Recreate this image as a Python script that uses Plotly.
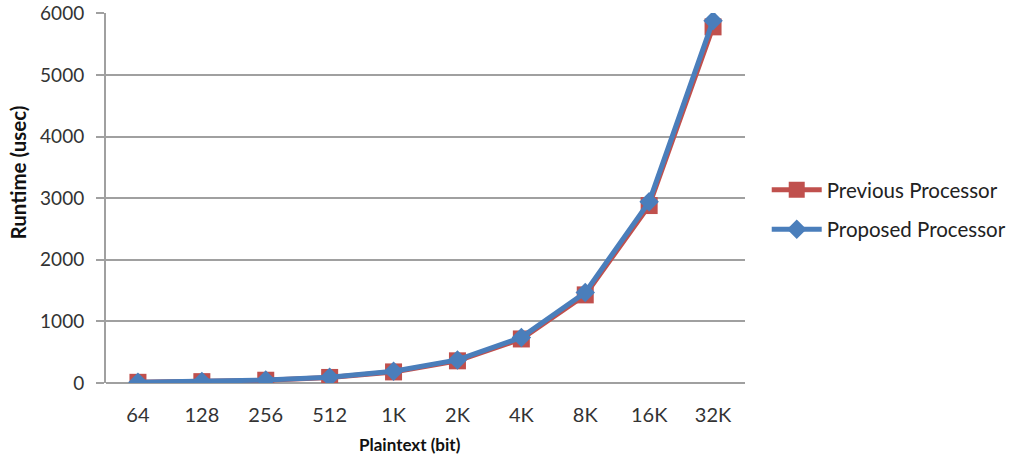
import plotly.graph_objects as go

categories = ["64", "128", "256", "512", "1K", "2K", "4K", "8K", "16K", "32K"]
previous = [11, 22, 45, 90, 180, 360, 715, 1430, 2880, 5780]
proposed = [12, 24, 48, 95, 190, 375, 740, 1470, 2940, 5880]
x_title = "Plaintext (bit)"
y_title = "Runtime (usec)"

fig = go.Figure()
fig.add_trace(go.Scatter(
    x=categories, y=previous, name="Previous Processor", mode="lines+markers",
    legendgroup="prev",
    line=dict(color="#C0504D", width=5),
    marker=dict(symbol="square", size=17, color="#C0504D"),
))
fig.add_trace(go.Scatter(
    x=categories, y=proposed, name="Proposed Processor", mode="lines+markers",
    legendgroup="prop",
    line=dict(color="#4A7EBB", width=5),
    marker=dict(symbol="diamond", size=15, color="#4A7EBB"),
))

fig.update_layout(
    width=1014, height=464,
    margin=dict(l=106, r=269, t=13, b=81, autoexpand=False),
    paper_bgcolor="white", plot_bgcolor="white",
    font=dict(family="Lato, Open Sans, sans-serif", size=19, color="#333333"),
    legend=dict(x=1.034, y=0.468, yanchor="middle", xanchor="left",
                font=dict(size=20.5, color="#222222"), tracegroupgap=10,
                itemwidth=50),
    showlegend=True,
    annotations=[
        dict(text="<b>" + x_title + "</b>", xref="paper", yref="paper",
             x=0.476, y=-0.166, xanchor="center", yanchor="middle",
             showarrow=False, font=dict(size=17, color="#111111")),
        dict(text="<b>" + y_title + "</b>", xref="paper", yref="paper",
             x=-0.137, y=0.570, xanchor="center", yanchor="middle", textangle=-90,
             showarrow=False, font=dict(size=20.5, color="#111111")),
    ],
)
fig.update_xaxes(
    type="category", range=[-0.5, 9.5], automargin=False,
    showgrid=False, showline=False, ticks="", ticklabelstandoff=18,
    tickfont=dict(size=20, color="#333333"),
)
fig.update_yaxes(
    range=[0, 6005], tickvals=[0, 1000, 2000, 3000, 4000, 5000, 6000], automargin=False,
    showgrid=True, gridcolor="#A0A0A0", gridwidth=2,
    showline=True, linecolor="#A0A0A0", linewidth=2,
    ticks="outside", ticklen=8, tickcolor="#A0A0A0", tickwidth=2,
    ticklabelstandoff=8, ticklabeloverflow="allow",
    zeroline=True, zerolinecolor="#A0A0A0", zerolinewidth=2,
    tickfont=dict(size=19, color="#333333"),
)

fig.write_html("out.html", config={"displayModeBar": False},
               post_script="document.body.style.margin='0';")
